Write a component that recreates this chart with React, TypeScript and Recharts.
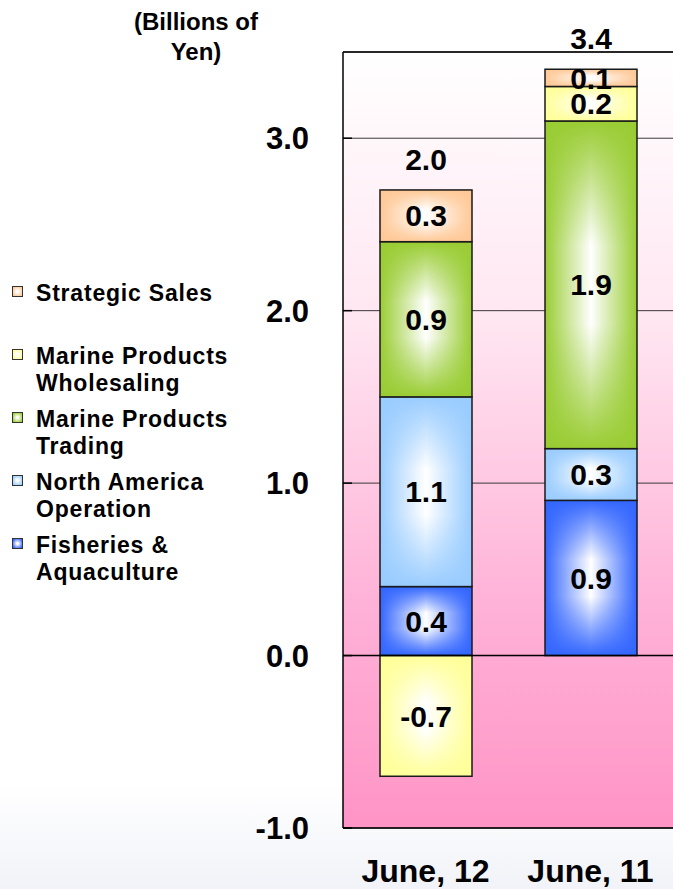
import React from "react";
import {
  BarChart,
  Bar,
  XAxis,
  YAxis,
  CartesianGrid,
  ReferenceLine,
  LabelList,
  Legend,
} from "recharts";

const categories = ["June, 12", "June, 11"];
const fisheries = [0.4, 0.9];
const northAmerica = [1.1, 0.3];
const trading = [0.9, 1.9];
const wholesaling = [-0.7, 0.2];
const strategic = [0.3, 0.1];
const totals = [2.0, 3.4];
const yTicks = [-1, 0, 1, 2, 3];

const FONT = '"Liberation Sans", Arial, Helvetica, sans-serif';

// bottom to top in the stack
const series = [
  { key: "fisheries", name: "Fisheries & Aquaculture", color: "#3366FF" },
  { key: "northAmerica", name: "North America Operation", color: "#99CCFF" },
  { key: "trading", name: "Marine Products Trading", color: "#99CC33" },
  { key: "wholesaling", name: "Marine Products Wholesaling", color: "#FFFF99" },
  { key: "strategic", name: "Strategic Sales", color: "#FFC896" },
];

const data = categories.map((label, i) => ({
  label,
  fisheries: fisheries[i],
  northAmerica: northAmerica[i],
  trading: trading[i],
  wholesaling: wholesaling[i],
  strategic: strategic[i],
  total: totals[i],
}));

const fmt = (v: any) => Number(v).toFixed(1);

function makeShape(key: string) {
  return (props: any) => {
    const { x, y, width, height } = props;
    const top = Math.min(y, y + height);
    const h = Math.abs(height);
    if (!h || !width) return <g />;
    return (
      <g>
        <rect x={x} y={top} width={width} height={h} fill={`url(#h-${key})`} />
        <rect x={x} y={top} width={width} height={h} fill={`url(#v-${key})`} />
        <rect
          x={x}
          y={top}
          width={width}
          height={h}
          fill="none"
          stroke="#1a1a1a"
          strokeWidth={1.5}
        />
      </g>
    );
  };
}

function LegendBox() {
  return (
    <div style={{ fontFamily: FONT }}>
      {[...series].reverse().map((s) => (
        <div
          key={s.key}
          style={{
            position: "relative",
            height: 63,
            paddingLeft: 36,
            fontSize: 23,
            fontWeight: "bold",
            lineHeight: "27px",
            letterSpacing: 0.8,
            color: "#000",
          }}
        >
          <span
            style={{
              position: "absolute",
              left: 12,
              top: 6,
              width: 9,
              height: 9,
              border: "1px solid #333",
              background: `radial-gradient(#ffffff 15%, ${s.color} 85%)`,
            }}
          />
          {s.name}
        </div>
      ))}
    </div>
  );
}

export default function App() {
  return (
    <div
      style={{
        position: "absolute",
        left: 0,
        top: 0,
        width: 673,
        height: 889,
        overflow: "hidden",
        background: "linear-gradient(to bottom, #ffffff 88%, #f1f3f8 100%)",
        fontFamily: FONT,
      }}
    >
      <div
        style={{
          position: "absolute",
          left: 116,
          top: 7,
          width: 160,
          textAlign: "center",
          fontSize: 24,
          fontWeight: "bold",
          lineHeight: "30px",
        }}
      >
        (Billions of Yen)
      </div>
      <BarChart
        width={673}
        height={889}
        data={data}
        stackOffset="sign"
        margin={{ top: 52, right: 0, bottom: 0, left: 0 }}
        style={{ fontFamily: FONT }}
      >
        <defs>
          <linearGradient id="plotBg" x1="0" y1="0" x2="0" y2="1">
            <stop offset="0%" stopColor="#FFFFFF" />
            <stop offset="35%" stopColor="#FFE6F1" />
            <stop offset="70%" stopColor="#FFB3D8" />
            <stop offset="100%" stopColor="#FF94C6" />
          </linearGradient>
          {series.map((s) => (
            <React.Fragment key={s.key}>
              <linearGradient id={`h-${s.key}`} x1="0" y1="0" x2="1" y2="0">
                <stop offset="0%" stopColor={s.color} />
                <stop offset="50%" stopColor="#FFFFFF" />
                <stop offset="100%" stopColor={s.color} />
              </linearGradient>
              <linearGradient id={`v-${s.key}`} x1="0" y1="0" x2="0" y2="1">
                <stop offset="0%" stopColor={s.color} stopOpacity={1} />
                <stop offset="38%" stopColor={s.color} stopOpacity={0} />
                <stop offset="62%" stopColor={s.color} stopOpacity={0} />
                <stop offset="100%" stopColor={s.color} stopOpacity={1} />
              </linearGradient>
            </React.Fragment>
          ))}
        </defs>
        <CartesianGrid
          vertical={false}
          stroke="#3a3a3a"
          fill="url(#plotBg)"
          fillOpacity={1}
        />
        <XAxis
          dataKey="label"
          height={61}
          axisLine={{ stroke: "#000", strokeWidth: 1.5 }}
          tickLine={false}
          tickMargin={25}
          tick={{ fontSize: 32, fontWeight: "bold", fill: "#000" }}
        />
        <YAxis
          width={343}
          domain={[-1, 3.5]}
          ticks={yTicks}
          allowDataOverflow
          tickFormatter={fmt}
          axisLine={{ stroke: "#000", strokeWidth: 1.5 }}
          tickLine={{ stroke: "#000", strokeWidth: 1.5 }}
          tickSize={-9}
          tickMargin={43}
          tick={{ fontSize: 31, fontWeight: "bold", fill: "#000" }}
        />
        <ReferenceLine y={0} stroke="#000" strokeWidth={1.5} />
        <ReferenceLine y={3.5} stroke="#000" strokeWidth={1.5} />
        <Legend
          layout="horizontal"
          verticalAlign="middle"
          align="center"
          content={() => <LegendBox />}
          wrapperStyle={{ left: 0, top: 280, width: 250 }}
        />
        {series.map((s) => (
          <Bar
            key={s.key}
            dataKey={s.key}
            name={s.name}
            stackId="a"
            fill={s.color}
            barSize={92}
            shape={makeShape(s.key)}
            isAnimationActive={false}
          >
            <LabelList
              dataKey={s.key}
              position="center"
              formatter={fmt}
              fill="#000"
              fontSize={30}
              fontWeight="bold"
            />
            {s.key === "strategic" && (
              <LabelList
                dataKey="total"
                position="top"
                offset={20}
                formatter={fmt}
                fill="#000"
                fontSize={30}
                fontWeight="bold"
              />
            )}
          </Bar>
        ))}
      </BarChart>
    </div>
  );
}
